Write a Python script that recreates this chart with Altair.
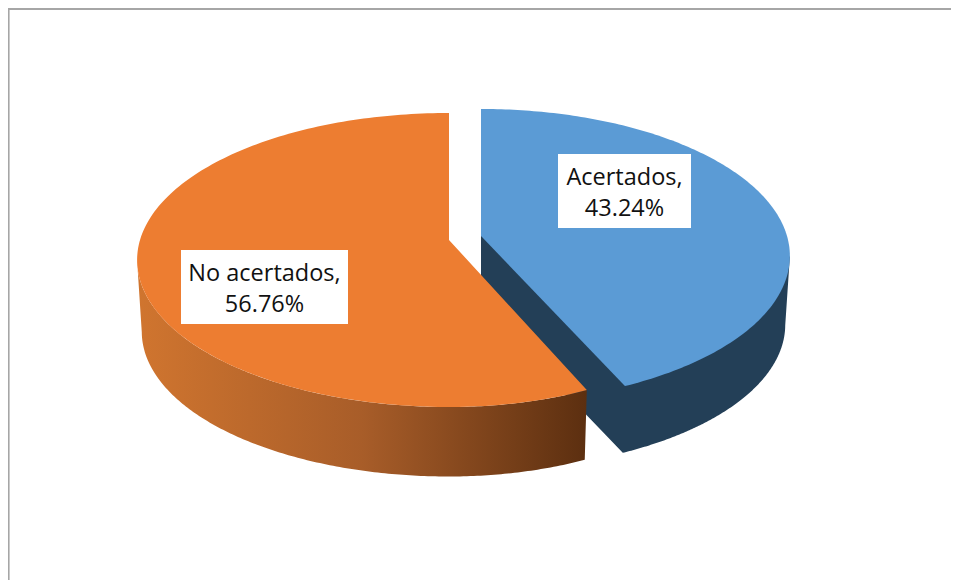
import math
import altair as alt
import pandas as pd

# Chart values
categories = ["Acertados", "No acertados"]
shares = [43.24, 56.76]

# Colours
BLUE, BLUE_DARK, ORANGE = "#5B9BD5", "#233F57", "#ED7D31"
FRAME = "#A6A6A6"

W, H = 943, 572
K = 0.136      # perspective strength of the tilted disc
B = 144.3      # vertical half scale
LOWER = 0.985  # scale of the lower face


def project(theta, apex, ax_neg, ax_pos, scale=1.0, drop=0.0):
    u, v = math.sin(theta), math.cos(theta)
    a = ax_pos if u > 0 else ax_neg
    w = 1 + K * v
    return apex[0] + scale * a * u / w, apex[1] + drop - scale * B * v / w


def arc(t0, t1, n=180):
    return [math.radians(t0 + (t1 - t0) * i / n) for i in range(n + 1)]


def table(pts):
    return pd.DataFrame([{"x": p[0], "y": p[1], "i": i} for i, p in enumerate(pts)])


X = alt.X("x:Q", scale=alt.Scale(domain=[8, 8 + W], range=[0, W]), axis=None)
Y = alt.Y("y:Q", scale=alt.Scale(domain=[8, 8 + H], range=[0, H]), axis=None)


def poly(pts, fill):
    return (
        alt.Chart(table(pts))
        .mark_line(fill=fill, stroke=None, strokeWidth=0, interpolate="linear-closed")
        .encode(x=X, y=Y, order=alt.Order("i:Q"))
    )


end = shares[0] / 100 * 360
b = dict(apex=(481, 236), ax_neg=306, ax_pos=306)
o = dict(apex=(449, 240), ax_neg=309, ax_pos=293)
BLUE_DROP, ORANGE_DROP = 69, 72

blue_top = [b["apex"]] + [project(t, **b) for t in arc(0, end)]
# tangent edge, lower rim and cut face as one outline
blue_body = (
    [b["apex"], project(math.radians(98), **b)]
    + [project(t, **b, scale=LOWER, drop=BLUE_DROP) for t in arc(98, end)]
    + [(b["apex"][0], b["apex"][1] + BLUE_DROP)]
)
orange_top = [o["apex"]] + [project(t, **o) for t in arc(end, 360)]
orange_side = [project(t, **o) for t in arc(end, 262)] + [
    project(t, **o, scale=LOWER, drop=ORANGE_DROP) for t in arc(262, end)
]
side_gradient = alt.Gradient(
    gradient="linear",
    x1=0, x2=1, y1=0, y2=0,
    stops=[
        alt.GradientStop(offset=0, color="#D0752F"),
        alt.GradientStop(offset=0.5, color="#A85D29"),
        alt.GradientStop(offset=1, color="#5C2F10"),
    ],
)

frame_left = (
    alt.Chart(pd.DataFrame({"x": [8.8], "y": [9], "y2": [580]}))
    .mark_rule(color=FRAME, strokeWidth=1.6)
    .encode(x=X, y=Y, y2="y2:Q")
)
frame_top = (
    alt.Chart(pd.DataFrame({"x": [8], "x2": [951], "y": [9]}))
    .mark_rule(color=FRAME, strokeWidth=2)
    .encode(x=X, x2="x2:Q", y=Y)
)

boxes = pd.DataFrame(
    {"x": [558, 181], "x2": [691, 348], "y": [154, 250], "y2": [228, 324]}
)
label_box = (
    alt.Chart(boxes)
    .mark_rect(color="white")
    .encode(x=X, x2="x2:Q", y=Y, y2="y2:Q")
)
labels = pd.DataFrame(
    {
        "x": [624.5, 264.5, 624.5, 264.5],
        "y": [177.5, 273.5, 209, 305],
        "text": [
            f"{categories[0]},",
            f"{categories[1]},",
            f"{shares[0]:.2f}%",
            f"{shares[1]:.2f}%",
        ],
    }
)
label_text = (
    alt.Chart(labels)
    .mark_text(font="Open Sans", fontSize=23.5, color="#111111", align="center", baseline="middle")
    .encode(x=X, y=Y, text="text:N")
)

chart = (
    alt.layer(
        frame_left,
        frame_top,
        poly(blue_body, BLUE_DARK),
        poly(blue_top, BLUE),
        poly(orange_side, side_gradient),
        poly(orange_top, ORANGE),
        label_box,
        label_text,
    )
    .properties(width=W, height=H, padding=0, autosize=alt.AutoSizeParams(type="none"))
    .configure_view(stroke=None)
    .configure(background="white")
)

chart.save("out.html", embed_options={"renderer": "svg", "actions": False})
